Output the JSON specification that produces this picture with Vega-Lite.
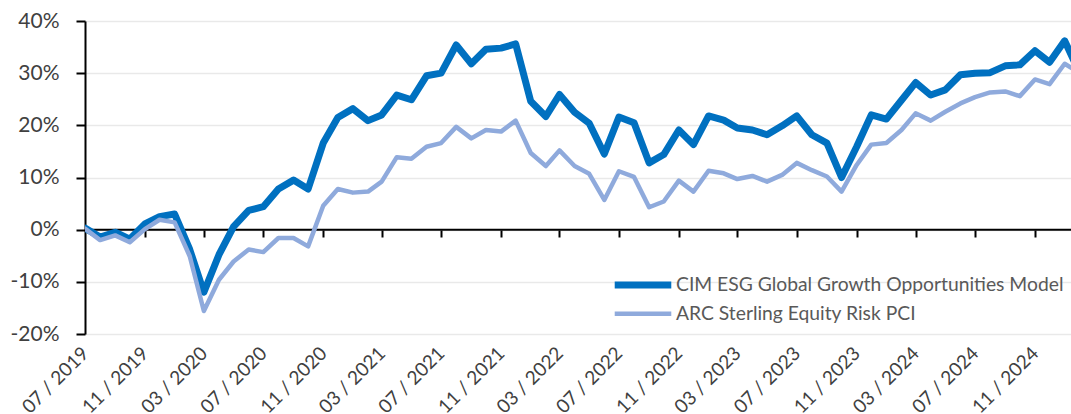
{
  "$schema": "https://vega.github.io/schema/vega-lite/v6.json",
  "width": 986,
  "height": 313,
  "autosize": {"type": "none"},
  "padding": {"left": 85, "top": 21, "right": 0, "bottom": 80},
  "background": "white",
  "config": {"view": {"stroke": null}, "font": "Lato"},
  "data": {"values": [
    {"date":"2019-07-01","series":"CIM ESG Global Growth Opportunities Model","value":0.3},
    {"date":"2019-08-01","series":"CIM ESG Global Growth Opportunities Model","value":-1.4},
    {"date":"2019-09-01","series":"CIM ESG Global Growth Opportunities Model","value":-0.5},
    {"date":"2019-10-01","series":"CIM ESG Global Growth Opportunities Model","value":-1.8},
    {"date":"2019-11-01","series":"CIM ESG Global Growth Opportunities Model","value":1.1},
    {"date":"2019-12-01","series":"CIM ESG Global Growth Opportunities Model","value":2.5},
    {"date":"2020-01-01","series":"CIM ESG Global Growth Opportunities Model","value":3.0},
    {"date":"2020-02-01","series":"CIM ESG Global Growth Opportunities Model","value":-3.8},
    {"date":"2020-03-01","series":"CIM ESG Global Growth Opportunities Model","value":-12.0},
    {"date":"2020-04-01","series":"CIM ESG Global Growth Opportunities Model","value":-4.8},
    {"date":"2020-05-01","series":"CIM ESG Global Growth Opportunities Model","value":0.6},
    {"date":"2020-06-01","series":"CIM ESG Global Growth Opportunities Model","value":3.7},
    {"date":"2020-07-01","series":"CIM ESG Global Growth Opportunities Model","value":4.4},
    {"date":"2020-08-01","series":"CIM ESG Global Growth Opportunities Model","value":7.8},
    {"date":"2020-09-01","series":"CIM ESG Global Growth Opportunities Model","value":9.5},
    {"date":"2020-10-01","series":"CIM ESG Global Growth Opportunities Model","value":7.8},
    {"date":"2020-11-01","series":"CIM ESG Global Growth Opportunities Model","value":16.6},
    {"date":"2020-12-01","series":"CIM ESG Global Growth Opportunities Model","value":21.5},
    {"date":"2021-01-01","series":"CIM ESG Global Growth Opportunities Model","value":23.2},
    {"date":"2021-02-01","series":"CIM ESG Global Growth Opportunities Model","value":20.9},
    {"date":"2021-03-01","series":"CIM ESG Global Growth Opportunities Model","value":22.0},
    {"date":"2021-04-01","series":"CIM ESG Global Growth Opportunities Model","value":25.8},
    {"date":"2021-05-01","series":"CIM ESG Global Growth Opportunities Model","value":24.9},
    {"date":"2021-06-01","series":"CIM ESG Global Growth Opportunities Model","value":29.5},
    {"date":"2021-07-01","series":"CIM ESG Global Growth Opportunities Model","value":30.0},
    {"date":"2021-08-01","series":"CIM ESG Global Growth Opportunities Model","value":35.4},
    {"date":"2021-09-01","series":"CIM ESG Global Growth Opportunities Model","value":31.8},
    {"date":"2021-10-01","series":"CIM ESG Global Growth Opportunities Model","value":34.6},
    {"date":"2021-11-01","series":"CIM ESG Global Growth Opportunities Model","value":34.8},
    {"date":"2021-12-01","series":"CIM ESG Global Growth Opportunities Model","value":35.6},
    {"date":"2022-01-01","series":"CIM ESG Global Growth Opportunities Model","value":24.6},
    {"date":"2022-02-01","series":"CIM ESG Global Growth Opportunities Model","value":21.7},
    {"date":"2022-03-01","series":"CIM ESG Global Growth Opportunities Model","value":25.9},
    {"date":"2022-04-01","series":"CIM ESG Global Growth Opportunities Model","value":22.5},
    {"date":"2022-05-01","series":"CIM ESG Global Growth Opportunities Model","value":20.4},
    {"date":"2022-06-01","series":"CIM ESG Global Growth Opportunities Model","value":14.5},
    {"date":"2022-07-01","series":"CIM ESG Global Growth Opportunities Model","value":21.6},
    {"date":"2022-08-01","series":"CIM ESG Global Growth Opportunities Model","value":20.5},
    {"date":"2022-09-01","series":"CIM ESG Global Growth Opportunities Model","value":12.8},
    {"date":"2022-10-01","series":"CIM ESG Global Growth Opportunities Model","value":14.4},
    {"date":"2022-11-01","series":"CIM ESG Global Growth Opportunities Model","value":19.1},
    {"date":"2022-12-01","series":"CIM ESG Global Growth Opportunities Model","value":16.3},
    {"date":"2023-01-01","series":"CIM ESG Global Growth Opportunities Model","value":21.8},
    {"date":"2023-02-01","series":"CIM ESG Global Growth Opportunities Model","value":21.0},
    {"date":"2023-03-01","series":"CIM ESG Global Growth Opportunities Model","value":19.5},
    {"date":"2023-04-01","series":"CIM ESG Global Growth Opportunities Model","value":19.1},
    {"date":"2023-05-01","series":"CIM ESG Global Growth Opportunities Model","value":18.2},
    {"date":"2023-06-01","series":"CIM ESG Global Growth Opportunities Model","value":19.9},
    {"date":"2023-07-01","series":"CIM ESG Global Growth Opportunities Model","value":21.8},
    {"date":"2023-08-01","series":"CIM ESG Global Growth Opportunities Model","value":18.2},
    {"date":"2023-09-01","series":"CIM ESG Global Growth Opportunities Model","value":16.6},
    {"date":"2023-10-01","series":"CIM ESG Global Growth Opportunities Model","value":10.0},
    {"date":"2023-11-01","series":"CIM ESG Global Growth Opportunities Model","value":15.9},
    {"date":"2023-12-01","series":"CIM ESG Global Growth Opportunities Model","value":22.0},
    {"date":"2024-01-01","series":"CIM ESG Global Growth Opportunities Model","value":21.2},
    {"date":"2024-02-01","series":"CIM ESG Global Growth Opportunities Model","value":24.8},
    {"date":"2024-03-01","series":"CIM ESG Global Growth Opportunities Model","value":28.2},
    {"date":"2024-04-01","series":"CIM ESG Global Growth Opportunities Model","value":25.8},
    {"date":"2024-05-01","series":"CIM ESG Global Growth Opportunities Model","value":26.8},
    {"date":"2024-06-01","series":"CIM ESG Global Growth Opportunities Model","value":29.7},
    {"date":"2024-07-01","series":"CIM ESG Global Growth Opportunities Model","value":30.0},
    {"date":"2024-08-01","series":"CIM ESG Global Growth Opportunities Model","value":30.1},
    {"date":"2024-09-01","series":"CIM ESG Global Growth Opportunities Model","value":31.4},
    {"date":"2024-10-01","series":"CIM ESG Global Growth Opportunities Model","value":31.6},
    {"date":"2024-11-01","series":"CIM ESG Global Growth Opportunities Model","value":34.3},
    {"date":"2024-12-01","series":"CIM ESG Global Growth Opportunities Model","value":32.1},
    {"date":"2025-01-01","series":"CIM ESG Global Growth Opportunities Model","value":36.2},
    {"date":"2025-02-01","series":"CIM ESG Global Growth Opportunities Model","value":30.0},
    {"date":"2019-07-01","series":"ARC Sterling Equity Risk PCI","value":0.2},
    {"date":"2019-08-01","series":"ARC Sterling Equity Risk PCI","value":-2.0},
    {"date":"2019-09-01","series":"ARC Sterling Equity Risk PCI","value":-1.1},
    {"date":"2019-10-01","series":"ARC Sterling Equity Risk PCI","value":-2.4},
    {"date":"2019-11-01","series":"ARC Sterling Equity Risk PCI","value":0.1},
    {"date":"2019-12-01","series":"ARC Sterling Equity Risk PCI","value":1.9},
    {"date":"2020-01-01","series":"ARC Sterling Equity Risk PCI","value":1.4},
    {"date":"2020-02-01","series":"ARC Sterling Equity Risk PCI","value":-5.1},
    {"date":"2020-03-01","series":"ARC Sterling Equity Risk PCI","value":-15.6},
    {"date":"2020-04-01","series":"ARC Sterling Equity Risk PCI","value":-9.6},
    {"date":"2020-05-01","series":"ARC Sterling Equity Risk PCI","value":-6.1},
    {"date":"2020-06-01","series":"ARC Sterling Equity Risk PCI","value":-3.8},
    {"date":"2020-07-01","series":"ARC Sterling Equity Risk PCI","value":-4.3},
    {"date":"2020-08-01","series":"ARC Sterling Equity Risk PCI","value":-1.6},
    {"date":"2020-09-01","series":"ARC Sterling Equity Risk PCI","value":-1.6},
    {"date":"2020-10-01","series":"ARC Sterling Equity Risk PCI","value":-3.2},
    {"date":"2020-11-01","series":"ARC Sterling Equity Risk PCI","value":4.6},
    {"date":"2020-12-01","series":"ARC Sterling Equity Risk PCI","value":7.8},
    {"date":"2021-01-01","series":"ARC Sterling Equity Risk PCI","value":7.1},
    {"date":"2021-02-01","series":"ARC Sterling Equity Risk PCI","value":7.3},
    {"date":"2021-03-01","series":"ARC Sterling Equity Risk PCI","value":9.2},
    {"date":"2021-04-01","series":"ARC Sterling Equity Risk PCI","value":13.9},
    {"date":"2021-05-01","series":"ARC Sterling Equity Risk PCI","value":13.6},
    {"date":"2021-06-01","series":"ARC Sterling Equity Risk PCI","value":15.9},
    {"date":"2021-07-01","series":"ARC Sterling Equity Risk PCI","value":16.6},
    {"date":"2021-08-01","series":"ARC Sterling Equity Risk PCI","value":19.7},
    {"date":"2021-09-01","series":"ARC Sterling Equity Risk PCI","value":17.5},
    {"date":"2021-10-01","series":"ARC Sterling Equity Risk PCI","value":19.1},
    {"date":"2021-11-01","series":"ARC Sterling Equity Risk PCI","value":18.8},
    {"date":"2021-12-01","series":"ARC Sterling Equity Risk PCI","value":20.9},
    {"date":"2022-01-01","series":"ARC Sterling Equity Risk PCI","value":14.7},
    {"date":"2022-02-01","series":"ARC Sterling Equity Risk PCI","value":12.2},
    {"date":"2022-03-01","series":"ARC Sterling Equity Risk PCI","value":15.2},
    {"date":"2022-04-01","series":"ARC Sterling Equity Risk PCI","value":12.2},
    {"date":"2022-05-01","series":"ARC Sterling Equity Risk PCI","value":10.7},
    {"date":"2022-06-01","series":"ARC Sterling Equity Risk PCI","value":5.7},
    {"date":"2022-07-01","series":"ARC Sterling Equity Risk PCI","value":11.2},
    {"date":"2022-08-01","series":"ARC Sterling Equity Risk PCI","value":10.1},
    {"date":"2022-09-01","series":"ARC Sterling Equity Risk PCI","value":4.3},
    {"date":"2022-10-01","series":"ARC Sterling Equity Risk PCI","value":5.4},
    {"date":"2022-11-01","series":"ARC Sterling Equity Risk PCI","value":9.4},
    {"date":"2022-12-01","series":"ARC Sterling Equity Risk PCI","value":7.3},
    {"date":"2023-01-01","series":"ARC Sterling Equity Risk PCI","value":11.3},
    {"date":"2023-02-01","series":"ARC Sterling Equity Risk PCI","value":10.8},
    {"date":"2023-03-01","series":"ARC Sterling Equity Risk PCI","value":9.7},
    {"date":"2023-04-01","series":"ARC Sterling Equity Risk PCI","value":10.3},
    {"date":"2023-05-01","series":"ARC Sterling Equity Risk PCI","value":9.2},
    {"date":"2023-06-01","series":"ARC Sterling Equity Risk PCI","value":10.5},
    {"date":"2023-07-01","series":"ARC Sterling Equity Risk PCI","value":12.8},
    {"date":"2023-08-01","series":"ARC Sterling Equity Risk PCI","value":11.4},
    {"date":"2023-09-01","series":"ARC Sterling Equity Risk PCI","value":10.2},
    {"date":"2023-10-01","series":"ARC Sterling Equity Risk PCI","value":7.3},
    {"date":"2023-11-01","series":"ARC Sterling Equity Risk PCI","value":12.4},
    {"date":"2023-12-01","series":"ARC Sterling Equity Risk PCI","value":16.3},
    {"date":"2024-01-01","series":"ARC Sterling Equity Risk PCI","value":16.6},
    {"date":"2024-02-01","series":"ARC Sterling Equity Risk PCI","value":19.1},
    {"date":"2024-03-01","series":"ARC Sterling Equity Risk PCI","value":22.3},
    {"date":"2024-04-01","series":"ARC Sterling Equity Risk PCI","value":20.9},
    {"date":"2024-05-01","series":"ARC Sterling Equity Risk PCI","value":22.6},
    {"date":"2024-06-01","series":"ARC Sterling Equity Risk PCI","value":24.2},
    {"date":"2024-07-01","series":"ARC Sterling Equity Risk PCI","value":25.4},
    {"date":"2024-08-01","series":"ARC Sterling Equity Risk PCI","value":26.3},
    {"date":"2024-09-01","series":"ARC Sterling Equity Risk PCI","value":26.5},
    {"date":"2024-10-01","series":"ARC Sterling Equity Risk PCI","value":25.6},
    {"date":"2024-11-01","series":"ARC Sterling Equity Risk PCI","value":28.8},
    {"date":"2024-12-01","series":"ARC Sterling Equity Risk PCI","value":27.9},
    {"date":"2025-01-01","series":"ARC Sterling Equity Risk PCI","value":31.8},
    {"date":"2025-02-01","series":"ARC Sterling Equity Risk PCI","value":30.0}
  ]},
  "resolve": {"axis": {"x": "independent"}},
  "layer": [
    {
      "transform": [{"filter": "datum.series === 'CIM ESG Global Growth Opportunities Model'"}],
      "mark": {"type": "line", "color": "#000000", "strokeWidth": 2, "clip": true},
      "encoding": {
        "x": {
          "field": "date", "type": "temporal",
          "scale": {"type": "utc", "domain": [{"year": 2019, "month": 7, "date": 1, "utc": true}, {"year": 2025, "month": 1, "date": 14, "utc": true}]},
          "axis": {
            "orient": "bottom", "offset": -104, "domain": false, "labels": false, "grid": false,
            "ticks": true, "tickSize": 7, "tickWidth": 2, "tickColor": "#000000", "title": null,
            "values": [
              {"year": 2019, "month": 11, "date": 1, "utc": true},
              {"year": 2020, "month": 3, "date": 1, "utc": true},
              {"year": 2020, "month": 7, "date": 1, "utc": true},
              {"year": 2020, "month": 11, "date": 1, "utc": true},
              {"year": 2021, "month": 3, "date": 1, "utc": true},
              {"year": 2021, "month": 7, "date": 1, "utc": true},
              {"year": 2021, "month": 11, "date": 1, "utc": true},
              {"year": 2022, "month": 3, "date": 1, "utc": true},
              {"year": 2022, "month": 7, "date": 1, "utc": true},
              {"year": 2022, "month": 11, "date": 1, "utc": true},
              {"year": 2023, "month": 3, "date": 1, "utc": true},
              {"year": 2023, "month": 7, "date": 1, "utc": true},
              {"year": 2023, "month": 11, "date": 1, "utc": true},
              {"year": 2024, "month": 3, "date": 1, "utc": true},
              {"year": 2024, "month": 7, "date": 1, "utc": true},
              {"year": 2024, "month": 11, "date": 1, "utc": true}
            ]
          }
        },
        "y": {"datum": 0, "type": "quantitative", "title": null}
      }
    },
    {
      "mark": {"type": "line", "clip": true, "strokeJoin": "round", "strokeCap": "round"},
      "encoding": {
        "x": {
          "field": "date", "type": "temporal",
          "axis": {
            "orient": "bottom", "domain": false, "ticks": false, "grid": false, "title": null,
            "format": "%m / %Y", "labelAngle": -45, "labelAlign": "right", "labelBaseline": "middle",
            "labelPadding": 16, "labelFont": "Lato", "labelFontSize": 19, "labelColor": "#404040", "labelOverlap": false,
            "values": [
              {"year": 2019, "month": 7, "date": 1, "utc": true},
              {"year": 2019, "month": 11, "date": 1, "utc": true},
              {"year": 2020, "month": 3, "date": 1, "utc": true},
              {"year": 2020, "month": 7, "date": 1, "utc": true},
              {"year": 2020, "month": 11, "date": 1, "utc": true},
              {"year": 2021, "month": 3, "date": 1, "utc": true},
              {"year": 2021, "month": 7, "date": 1, "utc": true},
              {"year": 2021, "month": 11, "date": 1, "utc": true},
              {"year": 2022, "month": 3, "date": 1, "utc": true},
              {"year": 2022, "month": 7, "date": 1, "utc": true},
              {"year": 2022, "month": 11, "date": 1, "utc": true},
              {"year": 2023, "month": 3, "date": 1, "utc": true},
              {"year": 2023, "month": 7, "date": 1, "utc": true},
              {"year": 2023, "month": 11, "date": 1, "utc": true},
              {"year": 2024, "month": 3, "date": 1, "utc": true},
              {"year": 2024, "month": 7, "date": 1, "utc": true},
              {"year": 2024, "month": 11, "date": 1, "utc": true}
            ]
          }
        },
        "y": {
          "field": "value", "type": "quantitative", "title": null,
          "scale": {"domain": [-20, 40], "nice": false, "zero": false},
          "axis": {
            "values": [-20, -10, 0, 10, 20, 30, 40],
            "labelExpr": "datum.value + '%'",
            "labelFont": "Lato", "labelFontSize": 21, "labelColor": "#404040", "labelPadding": 17,
            "domain": true, "domainColor": "#000000", "domainWidth": 2,
            "ticks": true, "tickSize": 9, "tickColor": "#000000", "tickWidth": 2,
            "grid": true, "gridColor": "#E9E9E9", "gridWidth": 1.5
          }
        },
        "color": {
          "field": "series", "type": "nominal",
          "scale": {"domain": ["CIM ESG Global Growth Opportunities Model", "ARC Sterling Equity Risk PCI"], "range": ["#0070C0", "#8FAADC"]},
          "legend": {
            "orient": "none", "legendX": 547, "legendY": 253, "title": null,
            "symbolType": "M-4,0H4", "symbolSize": 200,
            "labelFont": "Lato", "labelFontSize": 19.3, "labelColor": "#595959", "labelOffset": 22,
            "rowPadding": 5, "labelLimit": 600
          }
        },
        "strokeWidth": {
          "field": "series", "type": "nominal",
          "scale": {"domain": ["CIM ESG Global Growth Opportunities Model", "ARC Sterling Equity Risk PCI"], "range": [7, 4.5]},
          "legend": {
            "orient": "none", "legendX": 547, "legendY": 253, "title": null,
            "symbolType": "M-4,0H4", "symbolSize": 200,
            "labelFont": "Lato", "labelFontSize": 19.3, "labelColor": "#595959", "labelOffset": 22,
            "rowPadding": 5, "labelLimit": 600
          }
        }
      }
    }
  ]
}
